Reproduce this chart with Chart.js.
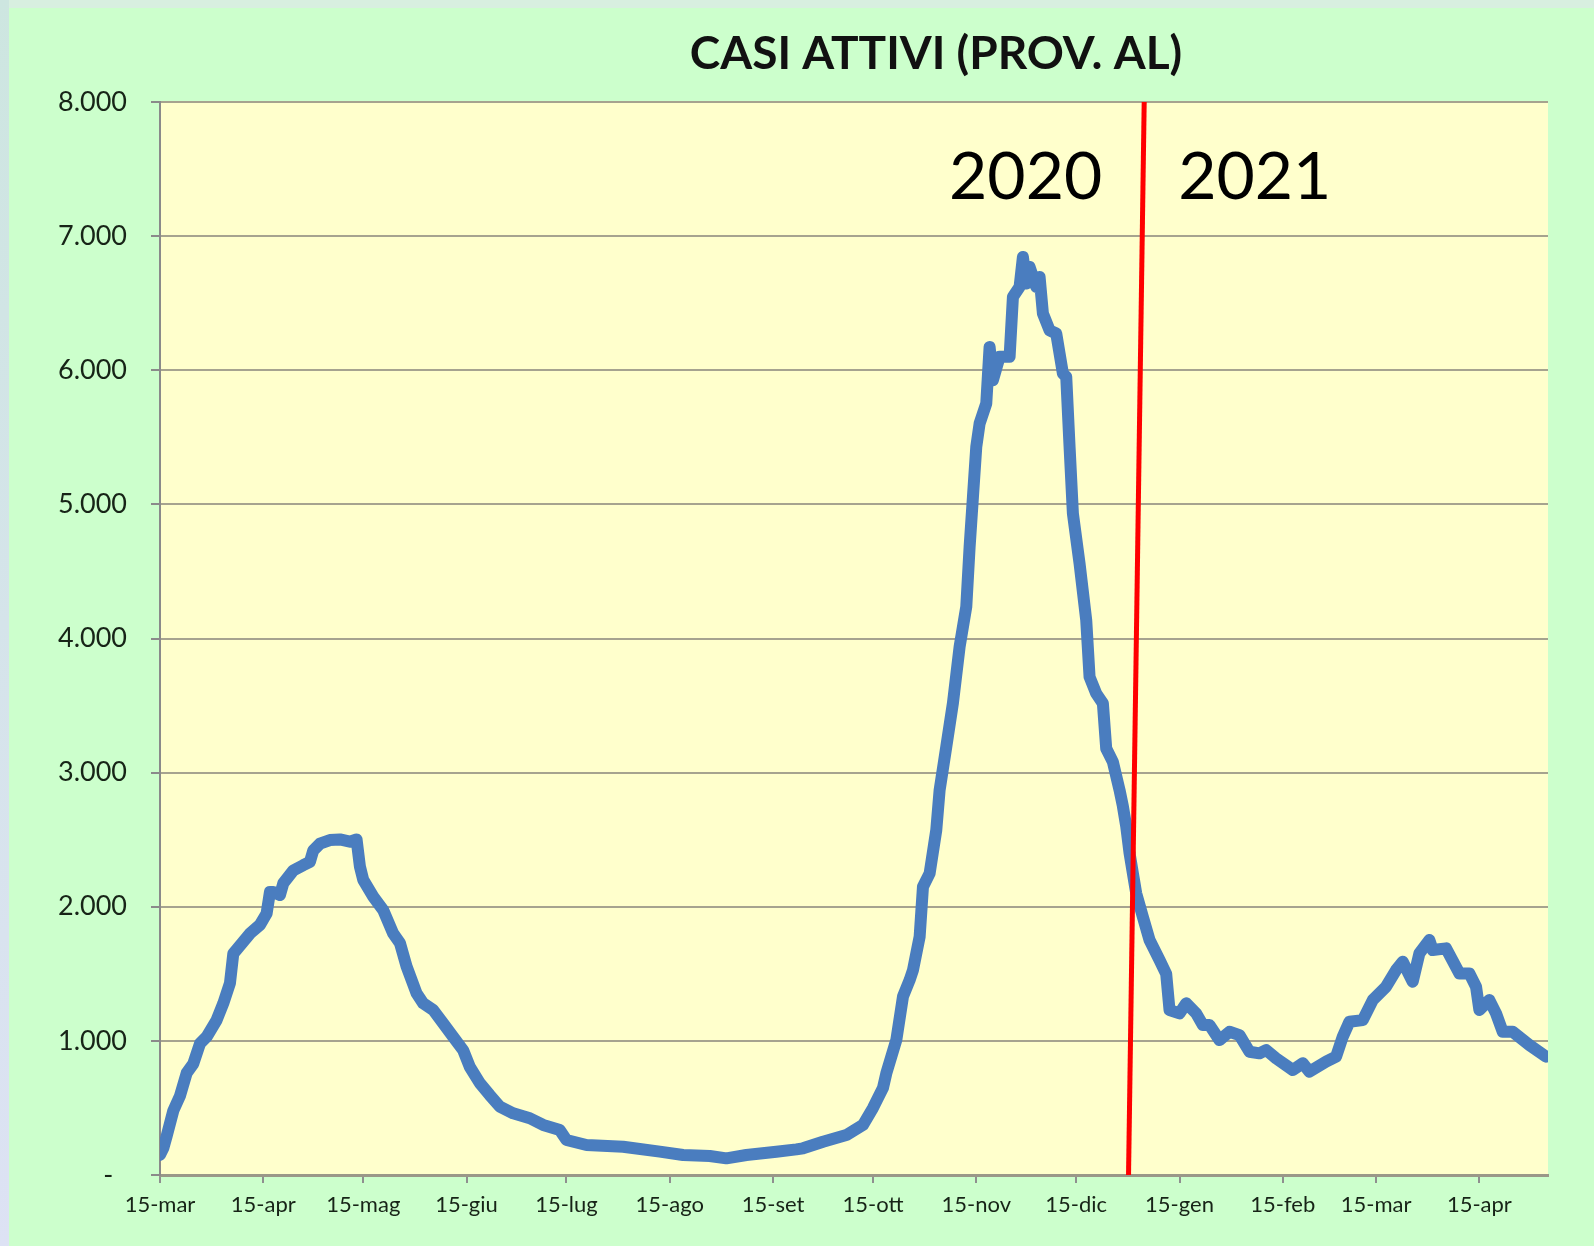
<!DOCTYPE html>
<html>
<head>
<meta charset="utf-8">
<script src="https://cdn.jsdelivr.net/npm/chart.js@4.4.1/dist/chart.umd.min.js"></script>
<style>
  html, body { margin: 0; padding: 0; background: #ccffcc; }
  #wrap { position: absolute; left: 0; top: 0; width: 1594px; height: 1246px; }
</style>
</head>
<body>
<div id="wrap"><canvas id="casiChart" width="1594" height="1246"></canvas></div>
<script>
// giorni dal 15-mar-2020 e casi attivi
const days = [
    0, 1, 2, 4, 6, 8, 10, 12, 14, 17, 19, 21, 22, 25, 27, 30, 32, 33, 34, 36,
    37, 40, 43, 45, 46, 48, 51, 54, 57, 59, 60, 61, 64, 67, 70, 72, 74, 77, 79, 82,
    85, 88, 91, 93, 96, 99, 102, 106, 111, 115, 120, 122, 128, 139, 150, 157, 165, 170, 176, 185,
    191, 193, 199, 206, 211, 214, 217, 218, 221, 223, 225, 226, 228, 229, 231, 233, 234, 236, 238, 240,
    242, 243, 244, 245, 246, 248, 249, 250, 252, 255, 256, 258, 259, 260, 261, 263, 264, 265, 267, 269,
    271, 272, 273, 274, 276, 278, 279, 281, 283, 284, 286, 288, 289, 290, 291, 292, 293, 295, 297, 300,
    302, 303, 306, 308, 311, 313, 315, 318, 321, 324, 327, 330, 332, 335, 340, 343, 345, 350, 353, 355,
    357, 361, 364, 368, 371, 373, 376, 378, 381, 382, 386, 390, 393, 395, 396, 399, 401, 403, 406, 411,
    416
];
const activeCases = [
    150, 200, 290, 480, 590, 760, 830, 980, 1030, 1155, 1280, 1430, 1650, 1740, 1800, 1865, 1950, 2110, 2110, 2087,
    2175, 2270, 2310, 2335, 2420, 2470, 2497, 2502, 2485, 2502, 2300, 2200, 2075, 1975, 1800, 1730, 1555, 1355, 1280, 1230,
    1130, 1030, 930, 805, 685, 595, 510, 460, 423, 373, 335, 261, 224, 211, 174, 149, 142, 124, 149, 174,
    191, 199, 248, 298, 373, 500, 650, 758, 1006, 1330, 1453, 1528, 1776, 2149, 2249, 2572, 2870, 3193, 3520, 3938,
    4236, 4683, 5056, 5429, 5603, 5752, 6174, 5926, 6100, 6100, 6547, 6621, 6845, 6646, 6770, 6621, 6696, 6423, 6298, 6274,
    5976, 5951, 5429, 4932, 4559, 4137, 3714, 3590, 3516, 3180, 3080, 2870, 2750, 2600, 2400, 2250, 2100, 1925, 1752, 1603,
    1500, 1230, 1205, 1280, 1205, 1118, 1118, 1006, 1068, 1043, 919, 907, 932, 870, 783, 833, 770, 845, 882, 1031,
    1143, 1155, 1304, 1404, 1528, 1590, 1441, 1652, 1752, 1677, 1690, 1503, 1503, 1404, 1230, 1304, 1205, 1068, 1068, 969,
    882
];

const tickDays = [0, 31, 61, 92, 122, 153, 184, 214, 245, 275, 306, 337, 365, 396];
const tickLabels = ['15-mar', '15-apr', '15-mag', '15-giu', '15-lug', '15-ago', '15-set',
    '15-ott', '15-nov', '15-dic', '15-gen', '15-feb', '15-mar', '15-apr'];

// linea rossa di fine anno (inclinata come nell'originale)
const yearLineDays = [295.4, 290.7];
const yearLineValues = [8000, 0];
const yearLabels = ['2020', '2021'];
const chartTitle = 'CASI ATTIVI (PROV. AL)';

const backgroundPlugin = {
    id: 'background',
    beforeDraw(chart) {
        const { ctx, width, height, chartArea } = chart;
        ctx.save();
        ctx.fillStyle = '#d8efe0';
        ctx.fillRect(0, 0, width, height);
        const grad = ctx.createLinearGradient(0, 0, 0, height);
        grad.addColorStop(0, '#cde6e0');
        grad.addColorStop(1, '#dde2f4');
        ctx.fillStyle = grad;
        ctx.fillRect(0, 0, 9, height);
        ctx.fillStyle = '#ccffcc';
        ctx.fillRect(9, 8, width - 9, height - 8);
        ctx.fillStyle = '#ffffcc';
        ctx.fillRect(chartArea.left, chartArea.top, chartArea.right - chartArea.left, chartArea.bottom - chartArea.top);
        ctx.restore();
    }
};

const labelsPlugin = {
    id: 'labels',
    afterDraw(chart) {
        const { ctx } = chart;
        const xs = chart.scales.x;
        const ys = chart.scales.y;
        ctx.save();
        ctx.fillStyle = '#111111';
        ctx.font = 'bold 46px Lato';
        ctx.textAlign = 'center';
        ctx.textBaseline = 'alphabetic';
        ctx.fillText(chartTitle, 936, 69);

        const lineX = xs.getPixelForValue(yearLineDays[0]);
        const baseY = ys.getPixelForValue(7280);
        ctx.fillStyle = '#000000';
        ctx.font = '66px Lato';
        ctx.textAlign = 'right';
        ctx.fillText(yearLabels[0], lineX - 42, baseY);
        ctx.textAlign = 'left';
        ctx.fillText(yearLabels[1], lineX + 34, baseY);
        ctx.restore();
    }
};

function formatThousands(v) {
    if (v === 0) return '-  ';
    return String(v).replace(/\B(?=(\d{3})+(?!\d))/g, '.');
}

function drawChart() {
    const ctx = document.getElementById('casiChart').getContext('2d');

    new Chart(ctx, {
        type: 'line',
        data: {
            datasets: [{
                label: 'Fine anno',
                data: yearLineDays.map((d, i) => ({ x: d, y: yearLineValues[i] })),
                borderColor: '#ff0000',
                borderWidth: 5,
                pointRadius: 0,
                order: 0,
            }, {
                label: 'Casi attivi',
                data: days.map((d, i) => ({ x: d, y: activeCases[i] })),
                borderColor: '#4a7dbf',
                borderWidth: 12,
                borderJoinStyle: 'round',
                borderCapStyle: 'round',
                pointRadius: 0,
                tension: 0,
                order: 1,
            }]
        },
        options: {
            responsive: false,
            animation: false,
            layout: {
                padding: { top: 102, right: 46, bottom: 21, left: 0 }
            },
            scales: {
                x: {
                    type: 'linear',
                    min: 0,
                    max: 416.6,
                    afterBuildTicks: (scale) => {
                        scale.ticks = tickDays.map(v => ({ value: v }));
                    },
                    afterFit: (scale) => { scale.height = 50; },
                    ticks: {
                        autoSkip: false,
                        maxRotation: 0,
                        padding: 9,
                        color: '#172417',
                        font: { family: 'Lato', size: 22 },
                        callback: (value) => tickLabels[tickDays.indexOf(value)]
                    },
                    grid: {
                        drawOnChartArea: false,
                        drawTicks: true,
                        tickLength: 8,
                        color: '#8f8f8f',
                        lineWidth: 2
                    },
                    border: { color: '#9a9888', width: 3 }
                },
                y: {
                    min: 0,
                    max: 8000,
                    afterFit: (scale) => { scale.width = 160; },
                    ticks: {
                        stepSize: 1000,
                        padding: 24,
                        color: '#172417',
                        font: { family: 'Lato', size: 27 },
                        callback: (value) => formatThousands(value)
                    },
                    grid: {
                        color: '#a6a38f',
                        lineWidth: 2,
                        tickLength: 9,
                        tickColor: '#8a8a8a'
                    },
                    border: { color: '#8a8a8a', width: 2 }
                }
            },
            plugins: {
                legend: { display: false },
                tooltip: { enabled: false }
            }
        },
        plugins: [backgroundPlugin, labelsPlugin]
    });
}

Promise.all([
    document.fonts.load('bold 46px Lato'),
    document.fonts.load('27px Lato')
]).then(drawChart, drawChart);
</script>
</body>
</html>
